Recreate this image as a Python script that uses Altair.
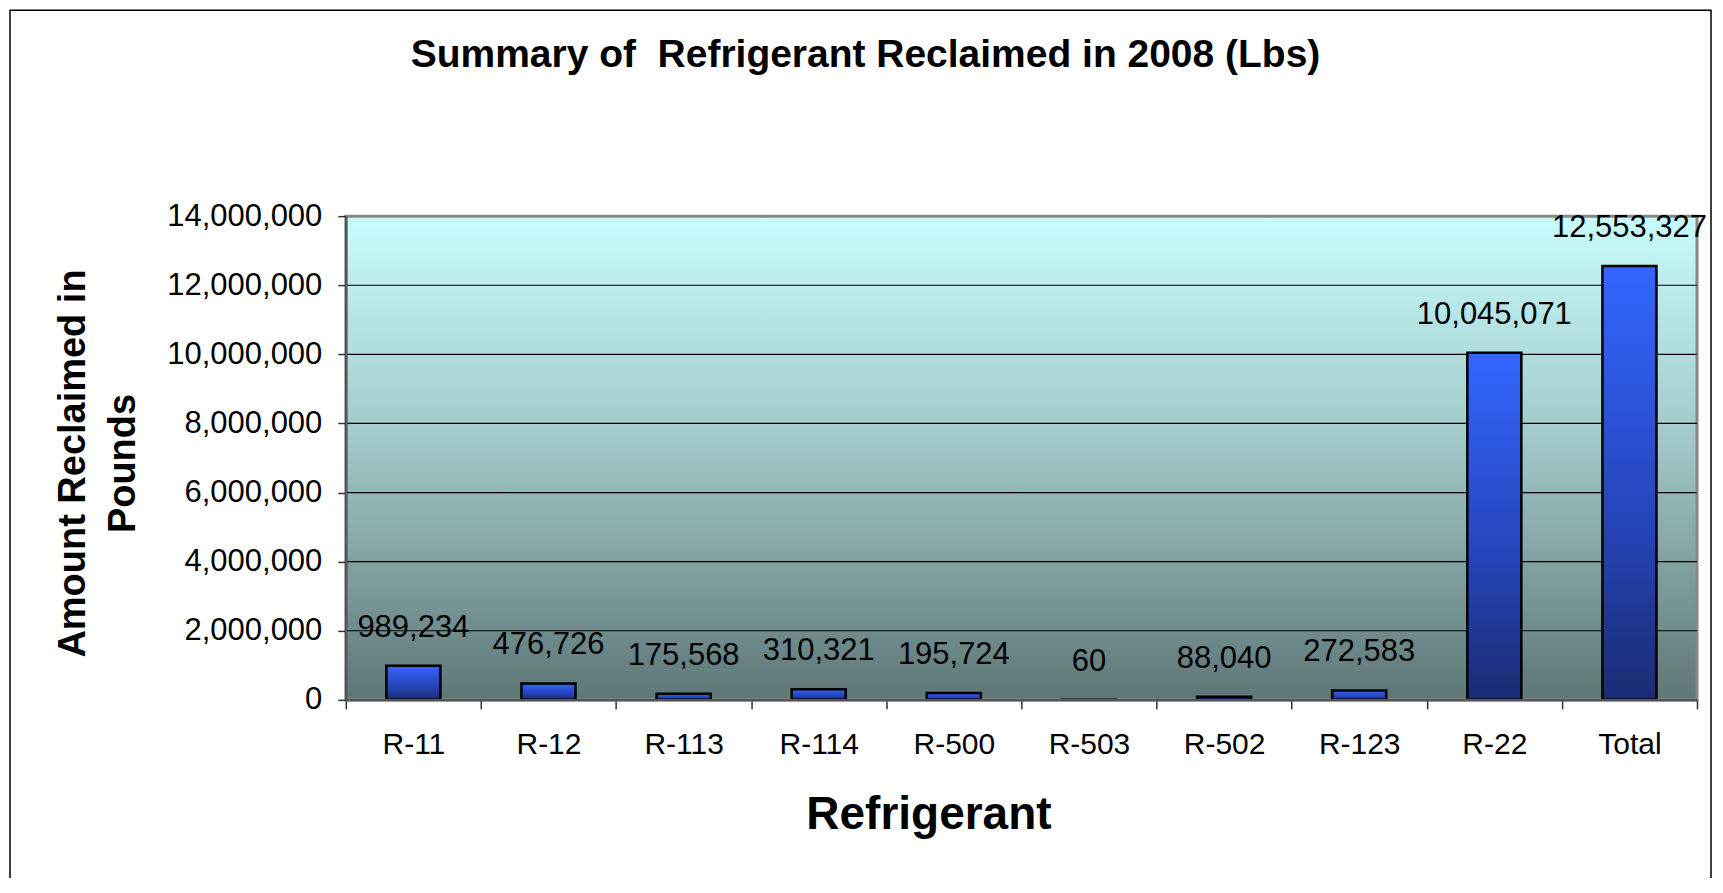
import altair as alt
import pandas as pd

categories = ["R-11", "R-12", "R-113", "R-114", "R-500", "R-503", "R-502", "R-123", "R-22", "Total"]
values = [989234, 476726, 175568, 310321, 195724, 60, 88040, 272583, 10045071, 12553327]
y_ticks = [0, 2000000, 4000000, 6000000, 8000000, 10000000, 12000000, 14000000]
grid_values = [2000000, 4000000, 6000000, 8000000, 10000000, 12000000]

df = pd.DataFrame({"Refrigerant": categories, "Amount": values})
grid_df = pd.DataFrame({"Amount": grid_values})
one = alt.InlineData(values=[{"a": 1}])

W, H = 1352, 484
FONT = "Liberation Sans"

bar_grad = alt.LinearGradient(
    gradient="linear",
    stops=[alt.GradientStop(color="#3366FF", offset=0),
           alt.GradientStop(color="#2544B8", offset=0.6),
           alt.GradientStop(color="#1A2C72", offset=1)],
    x1=0, x2=0, y1=0, y2=1,
)

bg_grad = alt.LinearGradient(
    gradient="linear",
    stops=[alt.GradientStop(color="#C8FCFC", offset=0),
           alt.GradientStop(color="#A2CACA", offset=0.45),
           alt.GradientStop(color="#5E7676", offset=1)],
    x1=0, x2=0, y1=0, y2=1,
)

y_scale = alt.Scale(domain=[0, 14000000], nice=False)

x_enc = alt.X(
    "Refrigerant:N", sort=None,
    scale=alt.Scale(paddingInner=0, paddingOuter=0),
    axis=alt.Axis(
        title="Refrigerant", titleFont=FONT, titleFontSize=46, titleFontWeight="bold",
        titleColor="black", titleX=583, titleY=115, titleAlign="center", titleBaseline="middle",
        labelFont=FONT, labelFontSize=30, labelColor="black", labelAngle=0,
        labelBaseline="middle", labelPadding=36,
        tickBand="extent", tickSize=9, tickColor="#333333", tickWidth=1.5,
        domainColor="#555555", domainWidth=2.5, grid=False, zindex=1,
    ),
)

y_enc = alt.Y(
    "Amount:Q",
    scale=y_scale,
    axis=alt.Axis(
        title=["Amount Reclaimed in", "Pounds"], titleFont=FONT, titleFontSize=38,
        titleFontWeight="bold", titleColor="black", titleAngle=-90,
        titleX=-272, titleY=247, titleAlign="center", titleBaseline="middle",
        titleLineHeight=50,
        values=y_ticks, format=",d",
        labelFont=FONT, labelFontSize=31, labelColor="black", labelPadding=16,
        tickSize=8, tickColor="#333333", tickWidth=1.5,
        domainColor="#555555", domainWidth=2.5,
        grid=False, zindex=1,
    ),
)

background = alt.Chart(one).mark_rect(
    color=bg_grad, stroke="#888888", strokeWidth=3
).encode(
    x=alt.value(0), x2=alt.value(W), y=alt.value(0), y2=alt.value(H)
)

gridlines = alt.Chart(grid_df).mark_rule(color="black", strokeWidth=1.2).encode(
    y=alt.Y("Amount:Q", scale=y_scale)
)

bars = alt.Chart(df).mark_bar(
    width={"band": 0.4}, color=bar_grad, stroke="black", strokeWidth=2.5
).encode(x=x_enc, y=y_enc)

labels = alt.Chart(df).mark_text(
    dy=-29, baseline="alphabetic", align="center", font=FONT, fontSize=31, color="black"
).encode(
    x=alt.X("Refrigerant:N", sort=None),
    y=alt.Y("Amount:Q"),
    text=alt.Text("Amount:Q", format=",d"),
)

border = alt.Chart(one).mark_rect(
    filled=False, stroke="black", strokeWidth=1.5
).encode(
    x=alt.value(-336), x2=alt.value(1366), y=alt.value(-206), y2=alt.value(900)
)

chart = alt.layer(background, gridlines, bars, labels, border).properties(
    width=W, height=H,
    autosize="none",
    padding={"left": 338, "top": 208, "right": 18, "bottom": 178},
    background="white",
    title=alt.TitleParams(
        text="Summary of\u00a0 Refrigerant Reclaimed in 2008 (Lbs)",
        font=FONT, fontSize=39, fontWeight="bold", color="black",
        anchor="middle", frame="group", baseline="alphabetic",
        dx=-156, offset=0, dy=97,
    ),
).configure_view(
    stroke=None
)

chart.save("out.html", embed_options={"renderer": "svg", "actions": False})
